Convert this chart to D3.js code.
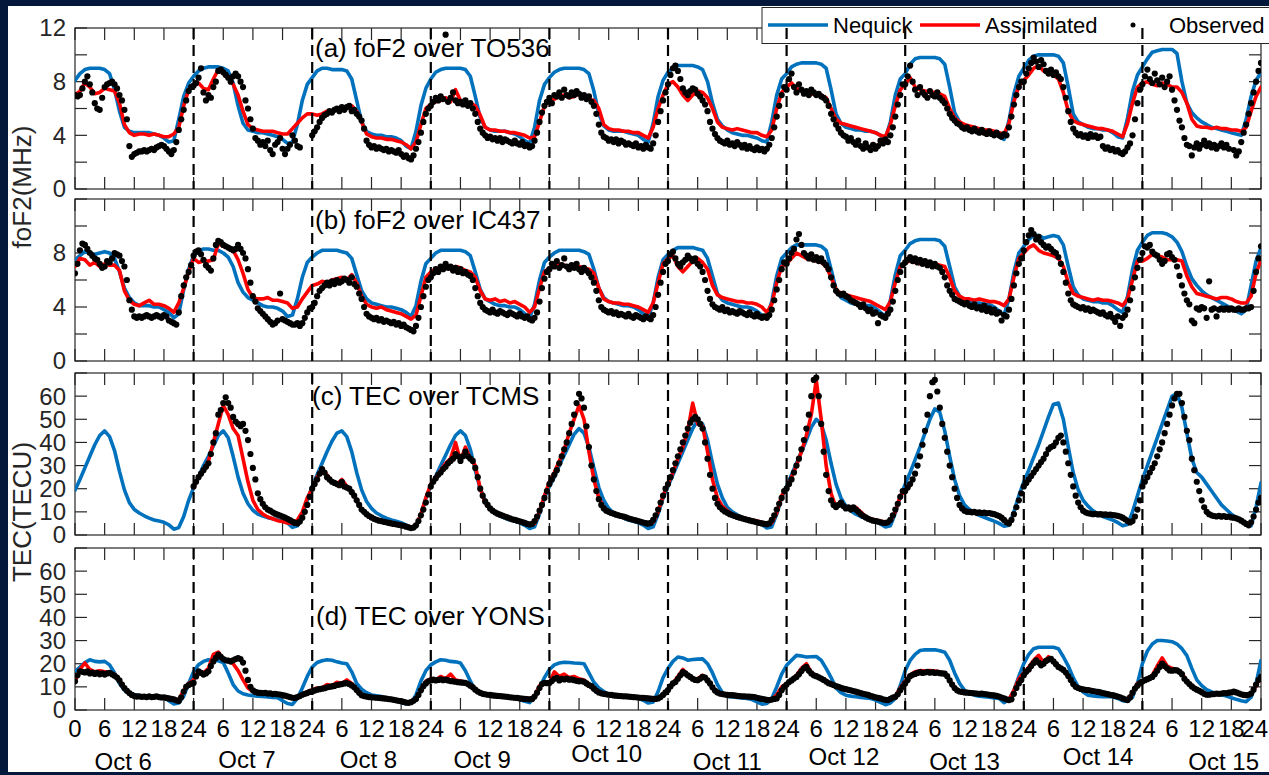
<!DOCTYPE html>
<html>
<head>
<meta charset="utf-8">
<script src="https://cdn.jsdelivr.net/npm/d3@7"></script>
<style>
  html, body { margin: 0; padding: 0; background: #03183a; }
  svg { display: block; }
  text { font-family: "Liberation Sans", Arial, Helvetica, sans-serif; }
</style>
</head>
<body>
<svg id="fig" width="1269" height="775"></svg>
<script>
// ---------------------------------------------------------------
// Hourly model values (hour 0 .. 240) and half-hourly observations
// ---------------------------------------------------------------
const dayLabels = ["Oct 6", "Oct 7", "Oct 8", "Oct 9", "Oct 10", "Oct 11", "Oct 12", "Oct 13", "Oct 14", "Oct 15"];
const hourTicks = [0, 6, 12, 18, 24, 30, 36, 42, 48, 54, 60, 66, 72, 78, 84, 90, 96, 102, 108, 114, 120, 126, 132, 138, 144, 150, 156, 162, 168, 174, 180, 186, 192, 198, 204, 210, 216, 222, 228, 234, 240];
const dayBoundaries = [24, 48, 72, 96, 120, 144, 168, 192, 216];
const seriesNames = ["Nequick", "Assimilated", "Observed"];
const panelTitles = ["(a) foF2 over TO536", "(b) foF2 over IC437", "(c) TEC over TCMS", "(d) TEC over YONS"];

// (a) foF2 over TO536, MHz
const nequickA = [
  8.1,8.6,8.9,9.0,9.0,9.0,8.9,8.6,7.4,5.8,4.6,4.3,4.2,4.2,4.2,4.2,4.1,4.0,3.8,3.5,3.6,5.2,6.9,7.9,
  8.4,8.8,9.0,9.1,9.1,9.1,9.0,8.8,7.9,6.2,4.9,4.4,4.3,4.2,4.2,4.1,4.0,3.9,3.7,3.4,3.5,4.8,6.6,7.8,
  8.3,8.8,9.0,9.0,8.9,8.9,8.9,8.8,8.2,6.6,5.0,4.3,4.1,4.0,4.0,3.9,3.9,3.8,3.6,3.2,3.0,4.3,6.2,7.5,
  8.2,8.7,8.9,9.0,9.0,9.0,9.0,8.9,8.4,6.9,5.3,4.6,4.4,4.3,4.3,4.3,4.2,4.1,3.9,3.6,3.4,4.6,6.6,7.8,
  8.3,8.7,8.9,9.0,9.0,9.0,9.0,8.9,8.6,7.3,5.6,4.7,4.4,4.3,4.3,4.3,4.2,4.1,4.0,3.7,3.5,4.9,6.9,8.1,
  8.7,9.0,9.2,9.2,9.2,9.2,9.1,8.9,8.0,6.4,5.2,4.7,4.4,4.2,4.1,4.0,4.0,3.9,3.8,3.6,3.5,5.0,7.0,8.2,
  8.6,9.1,9.3,9.4,9.4,9.4,9.4,9.3,9.0,7.4,5.6,4.9,4.6,4.5,4.4,4.4,4.3,4.3,4.2,4.0,3.8,5.0,7.0,8.2,
  8.6,9.3,9.7,9.8,9.8,9.8,9.8,9.7,9.3,7.6,5.7,5.0,4.7,4.5,4.4,4.4,4.3,4.3,4.2,3.9,3.7,5.1,7.1,8.4,
  9.0,9.6,9.9,10.0,10.0,10.0,10.0,9.9,9.4,7.6,5.6,5.0,4.8,4.6,4.5,4.5,4.4,4.4,4.2,3.9,3.8,5.3,7.3,8.5,
  9.1,9.7,10.2,10.3,10.4,10.4,10.4,10.1,8.0,6.4,5.7,5.3,5.0,4.8,4.6,4.5,4.4,4.3,4.2,4.1,4.0,5.2,6.9,8.1,
  8.7
];
const assimA = [
  7.0,7.3,7.9,7.6,7.1,7.2,7.5,7.4,7.3,6.4,4.8,4.2,4.0,4.1,4.1,4.0,4.1,4.0,3.9,3.9,4.1,4.6,6.2,7.4,
  7.7,7.9,7.5,7.4,8.2,8.9,8.7,8.4,7.8,7.0,5.8,4.8,4.5,4.4,4.3,4.3,4.3,4.2,4.1,4.1,4.5,4.9,5.3,5.6,
  5.6,5.5,5.6,5.8,5.8,6.0,6.1,6.0,6.2,5.8,5.0,4.1,3.9,3.8,3.8,3.7,3.7,3.6,3.5,3.3,3.0,3.5,4.8,6.0,
  6.3,6.5,6.6,6.8,6.5,7.4,6.6,6.5,6.4,6.2,5.5,4.6,4.4,4.4,4.3,4.3,4.2,4.2,4.1,4.0,3.8,3.9,5.0,6.2,
  6.6,6.7,6.9,7.0,6.8,6.9,7.1,6.8,6.7,6.6,6.0,4.8,4.5,4.4,4.4,4.3,4.3,4.2,4.2,4.0,3.8,4.6,6.0,7.0,
  7.8,8.0,7.6,7.0,6.6,7.0,7.3,7.2,6.8,6.0,5.0,4.6,4.5,4.4,4.5,4.4,4.3,4.2,4.2,4.0,3.9,4.4,6.0,7.2,
  7.6,7.9,7.5,7.3,7.2,7.1,7.0,7.0,6.8,6.0,5.2,4.9,4.8,4.7,4.6,4.5,4.4,4.3,4.2,4.0,3.9,4.8,6.2,7.4,
  7.8,8.3,7.6,7.4,7.3,7.2,7.2,7.1,6.9,6.0,5.3,5.0,4.8,4.7,4.6,4.5,4.4,4.4,4.3,4.2,4.1,4.9,6.5,7.7,
  8.1,8.5,9.0,9.2,8.8,8.6,8.5,8.2,7.2,5.8,5.1,4.9,4.8,4.7,4.6,4.5,4.5,4.4,4.3,4.1,3.9,4.9,6.4,7.6,
  7.9,8.0,7.8,7.7,7.9,7.8,7.6,7.6,7.2,6.4,5.2,4.7,4.6,4.6,4.5,4.6,4.5,4.5,4.4,4.4,4.3,4.6,5.8,6.9,
  7.6
];
const observedA = [
  7.0,6.9,7.0,7.5,8.0,8.4, 7.8,7.2,6.4,6.0,5.9,6.8, 7.6,7.8,7.9,8.0,7.8,7.5, 7.0,6.6,5.9,5.2,3.2,2.4,
  2.6,2.7,2.8,2.8,2.9,2.8, 2.9,3.0,2.9,3.1,3.2,3.3, 3.2,3.0,2.8,2.6,2.9,3.5, 4.4,5.2,5.9,6.6,7.3,7.6,
  7.7,7.9,8.3,9.0,7.2,6.6, 7.0,6.8,7.6,8.0,8.8,8.9, 8.7,8.5,8.3,8.0,8.4,8.6, 8.4,8.0,7.6,6.6,6.0,5.2,
  4.5,3.8,3.6,3.3,3.5,3.2, 3.6,2.9,2.6,3.3,3.5,3.8, 3.0,2.6,3.0,3.3,4.0,3.6, 3.2,3.1,null,null,null,null,
  4.0,4.3,4.6,5.0,5.3,5.5, 5.6,5.8,5.7,5.9,6.0,5.8, 6.1,5.9,6.1,6.2,5.8,5.9, 5.6,5.4,5.1,4.5,3.6,3.3,
  3.1,3.2,3.0,3.1,3.0,2.9, 3.0,2.8,2.9,2.8,2.7,2.9, 2.6,2.4,2.5,2.3,2.2,2.5, 3.0,3.5,4.2,5.0,5.6,6.0,
  6.2,6.5,6.8,6.6,6.9,6.7, 11.5,6.5,6.8,7.2,6.6,6.4, 6.5,6.3,6.6,6.2,6.4,6.0, 5.6,5.0,4.5,4.2,4.0,3.8,
  3.9,3.7,3.8,3.6,3.8,3.5, 3.7,3.6,3.5,3.4,3.6,3.4, 3.3,3.5,3.2,3.3,3.1,3.2, 3.6,4.2,5.0,5.7,6.2,6.5,
  6.8,6.4,7.0,6.9,7.2,6.8, 7.4,7.0,6.9,7.2,7.0,7.3, 7.1,6.8,7.0,6.7,6.9,6.5, 6.2,5.6,4.8,4.2,3.9,3.8,
  3.6,3.7,3.5,3.7,3.4,3.6, 3.5,3.3,3.4,3.3,3.2,3.4, 3.1,3.2,3.0,3.3,3.1,3.0, 3.4,4.0,5.0,5.8,6.6,7.2,
  7.8,8.5,9.0,9.2,8.8,8.2, 7.5,7.2,7.0,7.3,7.5,7.4, 7.1,6.9,6.6,6.3,5.8,5.0, 4.5,4.1,3.8,3.6,3.5,3.4,
  3.6,3.3,3.4,3.2,3.5,3.3, 3.1,3.3,3.0,3.2,3.0,2.9, 3.1,2.9,3.0,2.8,3.0,3.3, 3.8,4.6,5.4,6.2,7.0,7.6,
  7.4,8.2,8.6,7.6,7.2,7.8, 7.4,7.1,7.3,7.0,7.4,7.2, 7.0,7.1,6.9,6.8,6.6,6.2, 5.6,5.2,4.8,4.5,4.2,4.0,
  3.9,3.6,3.8,3.5,3.3,3.6, 3.2,3.0,3.4,3.1,2.9,3.3, 3.0,3.2,3.6,3.4,3.7,3.5, 4.0,4.6,5.4,6.3,7.0,7.8,
  7.8,8.4,9.2,8.0,7.4,7.0, 7.6,7.2,7.0,6.8,7.3,7.0, 6.9,7.2,6.8,6.6,6.4,6.0, 5.6,5.3,5.1,4.9,4.8,4.6,
  4.5,4.6,4.4,4.3,4.5,4.3, 4.2,4.4,4.2,4.1,4.3,4.1, 4.0,4.2,4.0,3.9,4.1,4.0, 4.6,5.4,6.3,7.0,7.6,8.0,
  8.0,8.6,9.0,9.4,9.8,9.5, 9.1,9.6,9.3,8.8,8.6,8.9, 8.5,8.7,8.4,8.2,7.6,6.8, 5.8,5.0,4.5,4.2,4.0,4.1,
  3.9,4.0,3.8,4.1,3.9,4.0, 3.8,3.9,3.2,3.0,3.1,2.9, 3.0,2.8,2.9,2.7,2.6,2.8, 3.1,3.4,4.0,5.2,6.4,7.4,
  7.8,8.4,8.9,8.2,7.9,8.6, 8.1,7.8,8.3,7.6,8.0,8.4, 7.4,6.6,5.9,5.1,4.6,3.8, 3.3,3.2,2.5,3.1,3.4,3.0,
  3.3,3.6,3.2,3.4,3.1,3.3, 3.0,3.2,3.4,3.1,3.3,3.0, null,2.9,2.5,2.8,3.5,4.2, 4.8,5.6,6.4,7.2,8.0,8.8,
  9.4
];

// (b) foF2 over IC437, MHz
const nequickB = [
  7.5,7.8,8.1,8.0,7.9,8.0,8.1,8.0,7.6,6.6,5.4,4.7,4.3,4.1,4.1,4.1,4.0,4.0,3.8,3.6,3.2,3.5,5.3,6.8,
  7.8,8.1,8.3,8.3,8.2,8.2,8.0,7.7,7.0,5.8,5.1,4.7,4.5,4.3,4.1,4.0,4.0,3.9,3.7,3.3,3.4,4.6,6.2,7.3,
  7.7,8.0,8.2,8.2,8.2,8.2,8.1,8.0,7.6,6.4,5.2,4.6,4.3,4.2,4.1,4.0,4.0,3.9,3.8,3.6,3.3,4.1,5.9,7.2,
  7.6,8.0,8.2,8.2,8.2,8.2,8.2,8.1,7.8,6.6,5.3,4.6,4.4,4.2,4.1,4.1,4.0,4.0,3.8,3.5,3.2,4.2,6.0,7.3,
  7.7,8.0,8.2,8.2,8.2,8.2,8.2,8.1,7.9,6.8,5.4,4.7,4.4,4.3,4.2,4.1,4.1,4.0,3.8,3.5,3.2,4.3,6.2,7.5,
  7.9,8.2,8.4,8.4,8.4,8.4,8.3,8.2,7.6,6.3,5.0,4.5,4.3,4.2,4.1,4.0,4.0,3.9,3.7,3.4,3.2,4.4,6.3,7.6,
  8.0,8.4,8.6,8.6,8.6,8.6,8.6,8.5,8.2,6.8,5.3,4.7,4.5,4.3,4.2,4.2,4.1,4.1,3.9,3.6,3.3,4.5,6.4,7.8,
  8.2,8.7,8.9,9.0,9.0,9.0,9.0,8.9,8.5,7.0,5.5,4.8,4.5,4.4,4.3,4.3,4.2,4.2,4.0,3.7,3.4,4.6,6.6,8.0,
  8.5,9.0,9.3,9.3,9.1,9.2,9.3,9.2,8.6,7.0,5.5,4.9,4.6,4.5,4.4,4.4,4.3,4.3,4.1,3.8,3.6,4.8,6.8,8.2,
  8.8,9.3,9.5,9.5,9.5,9.4,9.2,8.8,8.1,7.0,6.1,5.6,5.2,4.9,4.7,4.5,4.3,4.1,3.9,3.7,3.5,3.8,5.6,7.4,
  8.4
];
const assimB = [
  7.0,7.6,7.5,7.1,7.3,7.0,7.2,7.1,7.1,6.7,5.2,4.5,4.2,4.1,4.3,4.5,4.2,4.2,4.1,3.9,3.6,4.3,5.4,6.6,
  7.6,7.3,7.4,7.4,7.5,8.7,8.5,8.4,8.2,7.5,6.5,5.3,4.7,4.6,4.6,4.7,4.5,4.5,4.4,4.3,3.9,4.0,4.6,5.1,
  5.6,5.7,5.9,5.8,6.0,6.1,6.2,6.0,6.4,5.8,4.8,4.2,4.0,3.9,4.0,3.8,3.7,3.6,3.5,3.3,3.1,3.4,4.8,6.2,
  6.6,6.8,6.9,7.0,6.8,7.0,6.9,6.7,6.6,6.2,5.2,4.6,4.5,4.6,4.4,4.5,4.3,4.4,4.2,4.0,3.6,4.0,5.4,6.6,
  6.9,7.0,7.2,7.1,7.0,7.1,7.0,6.9,6.8,6.5,5.4,4.6,4.4,4.3,4.3,4.2,4.2,4.1,4.0,3.8,3.6,4.3,5.8,7.2,
  7.6,7.8,7.0,6.6,7.0,7.4,7.6,7.3,6.8,5.6,4.9,4.7,4.6,4.5,4.4,4.4,4.3,4.3,4.2,4.0,3.6,4.2,5.8,7.0,
  7.2,7.6,8.0,7.8,7.6,7.5,7.4,7.3,7.0,6.2,5.3,5.0,4.9,4.8,4.7,4.6,4.5,4.4,4.2,4.0,3.8,4.4,5.8,7.0,
  7.3,7.4,7.3,7.2,7.3,7.2,7.2,7.1,7.0,6.2,5.2,4.8,4.6,4.6,4.5,4.6,4.5,4.4,4.4,4.3,4.1,4.6,6.2,7.6,
  8.0,8.4,8.6,8.2,8.0,7.9,7.8,7.6,7.0,5.8,5.0,4.8,4.7,4.6,4.5,4.6,4.5,4.5,4.4,4.3,4.1,4.6,6.0,7.4,
  7.4,7.6,7.9,7.8,7.7,7.5,7.5,7.5,7.4,6.3,5.5,5.0,4.9,4.8,4.7,4.6,4.7,4.7,4.6,4.4,4.3,4.3,4.8,6.5,
  7.5
];
const observedB = [
  6.5,7.2,8.2,8.7,8.6,8.3, 8.0,7.8,7.6,7.5,7.2,6.9, 7.0,7.4,7.3,7.6,8.0,7.9, 7.8,7.4,7.0,6.0,4.5,3.8,
  3.3,3.2,3.3,3.2,3.3,3.4, 3.3,3.2,3.3,3.4,3.3,3.2, 3.4,3.3,3.0,2.9,2.8,2.7, 3.6,4.8,5.6,6.2,6.6,7.1,
  7.8,8.1,8.2,7.9,7.5,7.1, 6.9,6.7,7.6,8.6,8.9,8.8, 8.6,8.5,8.4,8.3,8.2,8.3, 8.6,8.3,8.0,7.6,6.8,5.8,
  4.8,4.4,3.9,3.7,3.5,3.3, 3.1,2.9,2.7,2.8,3.0,5.0, 3.1,3.0,2.9,2.8,2.7,2.7, 2.8,2.6,2.8,3.2,3.6,3.9,
  4.0,4.3,4.8,5.2,5.4,5.6, 5.8,5.6,5.9,5.7,6.0,5.8, 5.9,6.1,6.0,5.8,6.2,5.7, 5.5,5.0,4.6,4.0,3.5,3.3,
  3.2,3.1,3.2,3.0,3.1,2.9, 3.0,2.9,2.8,2.9,2.7,2.8, 2.6,2.7,2.5,2.4,2.3,2.2, 2.6,3.2,4.0,4.8,5.5,6.0,
  6.2,6.5,6.8,6.6,7.0,6.8, 7.2,6.9,7.0,6.7,6.9,6.6, 6.8,6.5,6.6,6.4,6.3,6.0, 5.4,4.8,4.3,4.0,3.8,3.7,
  3.6,3.8,3.6,3.5,3.7,3.6, 3.5,3.4,3.6,3.5,3.4,3.3, 3.5,3.3,3.2,3.3,3.1,3.0, 3.2,3.6,4.4,5.4,6.1,6.6,
  6.8,7.2,7.0,7.4,6.9,7.1, 7.6,7.0,6.8,7.1,6.9,7.2, 6.8,6.6,6.9,6.7,6.5,6.2, 5.8,5.2,4.5,4.0,3.8,3.7,
  3.6,3.7,3.5,3.6,3.4,3.5, 3.4,3.3,3.5,3.3,3.2,3.4, 3.3,3.2,3.1,3.3,3.2,3.1, 3.4,4.0,4.9,5.8,6.6,7.2,
  7.4,7.9,8.1,7.6,7.2,7.0, 7.3,7.5,7.8,7.6,7.4,7.6, 7.2,7.0,6.6,6.0,5.2,4.6, 4.2,4.0,3.9,3.8,4.0,3.7,
  3.8,3.6,3.7,3.6,3.5,3.7, 3.6,3.5,3.4,3.6,3.4,3.3, 3.5,3.3,3.2,3.3,3.2,3.4, 3.8,4.5,5.3,6.0,6.8,7.3,
  7.2,7.6,8.0,8.3,9.0,9.4, 8.6,8.0,7.8,7.6,7.9,7.5, 7.7,7.4,7.6,7.3,7.1,6.8, 6.2,5.6,5.2,5.0,4.9,5.0,
  4.8,4.7,4.5,4.4,4.3,4.2, 4.0,4.2,3.9,3.7,3.8,3.5, 3.6,2.8,3.4,3.3,3.2,3.5, 3.8,4.4,5.2,6.0,6.6,7.1,
  7.3,7.5,7.7,7.4,7.6,7.3, 7.5,7.2,7.4,7.1,7.3,7.0, 7.2,7.0,6.9,6.6,6.2,5.6, 5.2,4.9,4.6,4.5,4.4,4.3,
  4.2,4.3,4.1,4.0,4.2,3.9, 4.0,3.8,4.1,3.7,3.9,3.6, 3.8,3.5,3.6,3.0,3.4,3.3, 3.8,4.6,5.6,6.5,7.2,7.6,
  8.2,8.8,9.3,9.7,9.4,9.0, 9.2,8.8,8.6,8.4,8.5,8.3, 8.1,8.0,7.7,7.2,6.6,5.8, 5.0,4.5,4.2,4.1,4.0,3.9,
  4.0,3.8,3.9,3.7,3.8,3.7, 3.6,3.5,3.6,3.4,3.3,3.5, 3.2,2.9,3.3,2.6,3.2,3.4, 3.8,4.5,5.4,6.2,6.9,7.5,
  8.0,8.5,8.4,8.6,8.1,7.9, 7.8,7.5,7.2,7.4,7.9,8.0, 7.7,7.5,7.0,6.3,5.6,5.0, 4.5,4.2,3.0,2.8,3.9,3.8,
  4.0,3.9,3.2,5.9,3.8,3.9, 3.3,3.8,3.9,3.8,3.9,3.8, 3.9,3.8,3.8,3.9,3.8,3.8, 3.9,3.9,4.0,5.2,6.6,7.6,
  8.5
];

// (c) TEC over TCMS, TECU
const nequickC = [
  19.3,24,29,34,39,43,45,42.5,36.5,27.5,19.5,14,11,9.5,8.3,7.3,6.5,6.0,5.5,4.4,2.5,3.2,8.0,15.0,
  20.5,25,30,34,38.5,43,45,42,34,25,18,13.5,10.7,9,8.2,7.5,7,6.5,6,5.2,3.3,4.0,9,15,
  21,26,31,36,40.5,44,45,42.5,36,27,19.5,14.5,11.5,9.5,8.3,7.3,6.5,5.9,5.3,4.3,2.8,3.5,9,16,
  21,25.5,30,34.5,39,43,45,43,37,28,20,15,11.5,9.5,8.2,7.3,6.5,5.9,5.3,4.2,2.8,3.5,9,16,
  21,25,30,34.5,39,43.5,46,44,38,29,20.5,15,11.5,9.5,8.3,7.3,6.5,5.9,5.3,4.3,2.8,3.5,9,16,
  21,26,31,36,41,46,49.5,48,41,31,22,16,12,10,8.7,7.6,6.8,6.1,5.5,4.5,3.0,3.5,9,16,
  21,26,31,36,41,46.5,50,48,41,31,22,16,12.5,10.5,9,8,7.2,6.5,5.8,4.8,3.5,4.0,9.5,16.5,
  22,27,32.5,38,44,50,54.5,53,45,34,24,17,13,11,9.5,8.5,7.6,6.8,6.0,5.0,3.8,4.2,10,17,
  23,28,33.5,39,45,51,56.5,57,50,38,27,19.5,15,12.5,10.5,9,8,7.2,6.4,5.4,4.0,4.5,10,17,
  24,30,36,42,48,54,60,61,55,44,33,27,25,22,19,16,13,11,9,7.5,6,4.5,4.0,12,
  22.5
];
// assimilation run covers hours 24 .. 168
const assimCStart = 24;
const assimC = [
  20.5,25,28,32,40,48,56,52,46,43,33,23,15,11,9,7.8,7,6.2,5.8,5.2,5.0,6.5,10,16,
  20,25,28,26,23,22,24,21,19,15,11,9,7.5,6.5,6,5.5,5.2,4.8,4.5,4.0,3.5,4.0,9,16,
  22,25,28,31,33,40,32,38,33,30,20,14,11,9.5,8.5,7.8,7.2,6.5,6.0,5.5,4.5,5.0,10,17,
  23,27,32,37,44,50,56,50,36,24,16,12,10,9,8.2,7.5,7,6.5,6,5.5,5.0,5.5,10,17,
  22,27,33,38,45,57,48,47,36,24,16,12.5,10.5,9,8,7.5,7,6.5,6,5.5,5.0,5.2,9.5,17,
  20,25,30,36,43,52,67,50,30,18,12,14,12,11,12,10,8,7,6.5,6,5.5,6,10,17,
  19
];
// receiver observations start at hour 24
const observedCStart = 24;
const observedC = [
  21,23,25,26.5,28,29.5, 31,35,40,44,52,54, 57,59.5,57,55,51,49, 48,47,48,45,41,35,
  29,24,18,15.5,13.5,12, 11,10.5,9.8,9.2,8.8,8.4, 8,7.5,7,6.4,5.8,5.2, 5,5.8,7.5,10,13,16.5,
  20,22,24,26.5,28.5,27, 25,24,23,22.5,22,21.5, 23,21,20.5,20,18.5,17, 15,13,11,10,9,8.2,
  7.6,7,6.6,6.2,6,5.7, 5.5,5.2,5.0,4.8,4.6,4.4, 4.2,4.0,3.6,3.3,3.0,3.2, 4.2,6,8.5,11,14,17.5,
  21,23,24.5,26,27,28.5, 29.5,31,32,33,35,34, 32,34,36,34,33,32, 29,25,20,17,14.5,13,
  11.5,10.5,9.8,9.2,8.8,8.4, 8,7.6,7.2,6.8,6.5,6.2, 5.9,5.6,5.2,4.8,4.5,4.8, 6,8,10.5,13,16,19,
  22,24,26,28,31,34, 37,40,44,48,52,57, 61,59,55,47,38,30, 24,19,15.5,13,11.5,10.5,
  10,9.5,9.2,8.8,8.5,8.2, 8,7.6,7.2,6.9,6.6,6.3, 6,5.7,5.4,5.1,4.9,5.2, 6.5,8.5,11,14,17,20,
  22,25,28,31,34,37, 40,43,46,48.5,50,51, 50,48,46,40,33,26, 20,16,13.5,12,11,10.2,
  9.6,9,8.6,8.2,7.8,7.5, 7.2,6.9,6.6,6.3,6,5.8, 5.5,5.2,5,4.8,4.6,5, 6.5,8.5,11,13.5,16,19,
  20,22,24,27,30,33, 37,41,46,52,60,67, 68,60,48,36,26,19, 15,13,12,13,14,12.5,
  11.5,12,11,12,11,10, 9,8.2,7.6,7,6.6,6.2, 6,5.8,5.5,5.3,5.2,5.5, 6.5,8.5,11,13.5,16.5,19,
  19,20.5,22,24,26.5,30, 34,39,45,52,60,66, 67,62,55,48,42,36, 30,25,20,16,13,11.5,
  10.5,10,10,9.8,10,9.6, 9.8,9.5,9.7,9.4,9.5,9.2, 9,8.6,8.2,7.5,6.5,5.5, 5,6.5,9,12,15,18,
  21,22.5,24,25.5,27,28.5, 30,31.5,33,35,37,38, 38.5,40,42,43,40,36, 31,26,21,17,14,12,
  10.5,9.8,9.4,9.2,9,9.1, 8.9,9,8.8,8.9,8.7,8.8, 8.6,8.5,8.3,8,7.5,6.8, 6,5.4,6,8,11,15,
  21,23,25,27,29,31, 34,37,40,44,48,52, 56,59,61,61,57,51, 45,41,33,28,23,19,
  15,12,10,9,8.5,8.2, 8,8.3,7.9,8.2,7.8,8, 7.6,7.5,7.2,6.8,6.2,5.5, 4.8,4.2,5.5,8,11,14,
  16
];

// (d) TEC over YONS, TECU
const nequickD = [
  16.7,18.5,20.5,21.7,21.0,20.8,21.0,19.5,16.0,11.5,8.6,7.3,6.7,6.3,6.0,5.8,5.6,5.4,5.2,4.0,2.6,3.0,6.0,11.5,
  16.5,19.6,21.0,21.7,21.5,21.3,20.5,16.0,11.0,8.2,7.0,6.5,6.2,6.0,5.8,5.6,5.4,5.3,4.0,2.8,2.4,5.0,9.5,14.5,
  18.5,20.5,21.3,21.7,21.5,20.8,20.3,20.0,16.5,11.5,9.0,7.5,6.5,6.1,5.8,5.2,4.5,3.9,3.2,2.6,3.0,6.5,12.5,17.0,
  19.5,20.8,21.7,21.5,21.0,20.8,20.3,17.0,12.5,8.5,7.2,6.6,6.2,6.0,5.8,5.6,5.3,5.0,4.5,3.8,3.2,5.5,9.5,14.0,
  17.5,19.5,20.3,20.6,20.5,20.3,20.2,20.0,16.0,12.0,9.5,8.0,6.8,6.3,6.0,5.8,5.6,5.4,5.0,4.2,3.0,3.5,8.0,14.0,
  18.0,21.0,22.9,22.5,21.5,21.8,22.0,22.1,20.0,16.0,11.0,7.5,6.0,5.6,5.4,5.2,5.0,4.5,3.5,2.5,2.8,5.0,10.0,15.5,
  19.3,21.5,23.6,23.3,22.9,23.0,23.1,21.5,18.0,14.0,9.5,7.5,6.4,6.0,5.7,5.4,5.2,5.0,4.3,3.3,2.3,3.0,5.0,10.5,
  17.0,21.4,24.0,25.7,26.0,26.0,26.0,25.6,25.0,21.5,16.0,11.5,8.5,7.2,6.4,6.0,5.7,5.5,5.2,5.0,3.2,4.5,8.5,14.5,
  20.0,24.0,26.5,27.1,27.1,27.1,27.1,26.5,23.0,19.0,14.0,10.0,7.8,6.4,6.1,5.9,5.8,5.7,5.7,5.0,4.0,3.8,5.5,11.5,
  20.0,25.5,28.5,30.0,30.0,29.8,29.5,28.5,26.5,23.5,18.0,13.0,10.5,8.8,7.8,7.2,6.6,6.0,5.3,4.6,4.0,3.6,5.5,11.4,
  21.4
];
const assimD = [
  12.4,17.5,20.3,17.5,16.5,17.0,16.5,16.0,15.5,13.0,9.5,7.5,6.2,6.0,5.8,5.7,5.6,5.5,5.3,5.0,4.6,4.5,8.5,11.5,
  13.0,17.0,16.0,18.0,24.0,25.0,22.0,21.0,20.0,17.0,13.0,9.5,8.0,7.5,7.2,7.0,6.8,6.6,6.2,5.8,5.3,5.8,6.8,7.8,
  8.8,9.5,9.5,11.0,10.5,12.0,11.5,13.0,11.5,9.0,6.5,5.8,5.5,5.3,5.1,4.9,4.6,4.2,3.8,3.2,3.6,4.8,9.0,12.5,
  13.5,13.0,14.5,13.5,15.5,13.0,12.5,12.0,10.5,8.5,7.3,6.8,6.5,6.3,6.1,5.9,5.7,5.5,5.2,4.9,4.6,6.0,10.5,12.0,
  11.8,16.5,14.5,15.5,14.0,14.5,13.5,13.0,11.0,9.5,7.8,7.0,6.5,6.3,6.1,6.0,5.9,5.7,5.5,5.3,5.0,4.8,5.0,6.5,
  8.6,11.5,14.5,17.5,15.0,13.5,13.5,15.0,13.0,9.5,7.5,6.8,6.5,6.3,6.1,5.9,5.8,5.6,5.2,4.8,4.4,4.7,6.5,10.0,
  11.5,13.0,15.0,18.0,20.0,16.0,15.0,14.0,12.5,11.5,10.5,9.5,9.0,8.3,7.8,7.3,6.6,6.0,5.5,5.0,4.4,5.0,6.0,9.5,
  12.5,15.0,16.5,17.0,16.8,17.0,16.8,16.5,15.7,13.0,9.0,8.0,7.6,7.4,7.2,7.0,6.8,6.6,6.2,5.5,4.8,4.5,8.5,13.5,
  16.0,18.5,21.5,23.6,20.5,23.0,21.0,19.0,17.0,14.5,11.0,9.5,9.0,8.6,8.2,7.8,7.2,6.8,6.4,5.9,5.2,4.5,7.5,11.5,
  12.5,13.5,15.0,19.0,22.5,19.0,18.0,17.5,16.0,12.5,10.0,8.6,7.5,6.6,6.8,7.0,7.2,7.5,7.8,7.6,7.0,6.5,6.8,10.5,
  14.5
];
const observedD = [
  12.4,15,16.7,16.5,16.2,16.7, 15.8,16.2,15.6,16.0,15.4,15.8, 15.3,15.8,16.0,15.4,14.8,14.0, 12.8,11.0,9.5,8.3,7.3,6.5,
  6.0,5.8,5.9,5.7,5.8,5.6, 5.9,5.6,5.7,5.9,5.6,5.4, 5.5,5.2,5.0,4.8,4.6,4.2, 3.9,5.5,8.0,10.0,10.8,11.3,
  11.7,14.5,16.7,16.0,15.3,15.8, 16.7,19.0,21.0,22.5,23.9,23.0, 22.0,21.5,21.3,21.0,21.5,22.0, 22.4,22.0,20.5,17.0,13.0,10.0,
  8.5,7.8,7.5,7.4,7.3,7.4, 7.1,7.2,6.9,7.0,6.8,6.7, 6.4,6.2,5.9,5.6,5.3,5.2, 5.6,6.0,6.6,7.0,7.3,7.8,
  8.0,8.4,8.8,9.0,9.2,9.4, 9.8,10.0,10.2,10.4,10.8,11.0, 11.2,11.5,11.6,11.2,10.6,9.8, 8.6,7.4,6.4,6.0,5.8,5.6,
  5.5,5.4,5.3,5.2,5.1,5.0, 4.9,4.7,4.6,4.4,4.2,4.0, 3.8,3.5,3.2,3.1,3.4,4.0, 4.8,6.5,8.5,10.3,11.5,12.4,
  12.8,13.1,12.8,13.0,13.2,12.9, 13.1,12.8,12.5,12.4,12.2,12.0, 11.9,11.8,11.7,11.2,10.5,9.8, 8.8,8.0,7.4,7.0,6.8,6.6,
  6.5,6.3,6.2,6.1,6.0,5.9, 5.8,5.7,5.5,5.4,5.3,5.2, 5.0,4.9,4.8,4.7,4.6,4.8, 5.8,7.5,9.5,11.2,11.7,11.6,
  11.7,12.5,13.5,13.9,12.8,13.5, 13.2,13.6,13.1,13.2,12.9,12.6, 12.4,12.5,12.2,11.5,10.8,10.3, 9.2,8.3,7.6,7.2,7.0,6.8,
  6.6,6.5,6.3,6.2,6.1,6.0, 5.9,5.9,5.8,5.7,5.6,5.5, 5.4,5.3,5.2,5.1,5.0,4.9, 4.8,4.8,5.0,5.6,6.5,7.6,
  8.6,10.2,11.5,12.1,13.5,15.0, 16.4,15.8,15.0,14.3,13.5,13.0, 12.9,13.5,14.3,14.0,12.8,11.5, 9.8,8.4,7.6,7.1,6.9,6.7,
  6.5,6.4,6.4,6.3,6.1,6.0, 5.9,5.9,5.8,5.8,5.7,5.6, 5.3,5.0,4.8,4.6,4.4,4.3, 4.5,4.8,5.0,6.5,8.5,10.0,
  11.0,12.1,12.8,13.6,14.3,15.5, 16.8,18.0,18.6,17.0,15.8,15.0, 14.6,14.1,13.6,13.0,12.3,11.6, 11.2,10.8,10.3,10.0,9.6,9.2,
  9.0,8.7,8.5,8.2,7.9,7.6, 7.3,7.0,6.8,6.5,6.1,5.8, 5.5,5.2,5.0,4.6,4.4,4.3, 4.8,5.4,5.7,6.8,8.5,10.0,
  11.5,13.0,14.6,15.2,15.6,16.0, 16.4,16.0,16.2,16.5,16.1,16.4, 16.0,16.2,15.9,15.8,15.7,14.6, 12.8,11.0,9.5,8.5,8.0,7.8,
  7.6,7.5,7.4,7.3,7.2,7.1, 7.0,7.1,6.9,6.8,6.6,6.4, 6.3,6.1,5.8,5.4,5.0,4.6, 4.3,4.6,7.0,9.5,11.5,13.0,
  15.0,16.5,17.5,19.0,20.3,21.4, 20.5,19.3,20.0,21.2,21.8,22.1, 21.0,19.8,18.6,18.0,17.3,16.2, 14.7,13.0,11.2,10.0,9.5,9.1,
  8.9,8.7,8.6,8.4,8.2,8.0, 7.8,7.6,7.3,7.1,6.9,6.6, 6.4,6.1,5.8,5.5,5.0,4.6, 4.3,5.5,7.5,9.3,10.5,11.6,
  12.3,12.9,13.3,13.8,14.3,15.5, 17.0,18.6,20.0,19.0,18.0,17.1, 17.0,17.2,17.1,16.5,15.5,13.5, 12.3,11.2,10.2,9.4,8.8,8.3,
  7.7,7.0,6.6,6.6,6.8,6.9, 7.1,7.0,7.1,7.3,7.2,7.5, 7.6,7.9,7.6,7.2,6.8,6.5, 6.4,6.6,7.1,8.8,11.0,13.0,
  14.3
];

// ---------------------------------------------------------------
// Figure layout
// ---------------------------------------------------------------
const W = 1269, H = 775;
const svg = d3.select("#fig");
const axisColor = "#262626";
const colors = { nequick: "#0072BD", assim: "#FF0000", obs: "#000000" };

svg.append("rect").attr("x", 8).attr("y", 6).attr("width", W - 8).attr("height", 766).attr("fill", "#ffffff");

const x = d3.scaleLinear().domain([0, 240]).range([75, 1261]);

const panels = [
  { title: panelTitles[0], titleX: 315, titleY: 57, top: 28, bottom: 189, max: 12, step: 2, labels: [0, 4, 8, 12],
    nequick: nequickA, assim: assimA, assimStart: 0, obs: observedA, obsStart: 0 },
  { title: panelTitles[1], titleX: 315, titleY: 229, top: 199, bottom: 361, max: 12, step: 2, labels: [0, 4, 8],
    nequick: nequickB, assim: assimB, assimStart: 0, obs: observedB, obsStart: 0 },
  { title: panelTitles[2], titleX: 312, titleY: 405, top: 373, bottom: 535, max: 70, step: 10, labels: [0, 10, 20, 30, 40, 50, 60],
    nequick: nequickC, assim: assimC, assimStart: assimCStart, obs: observedC, obsStart: observedCStart },
  { title: panelTitles[3], titleX: 316, titleY: 625, top: 548, bottom: 710, max: 70, step: 10, labels: [0, 10, 20, 30, 40, 50, 60],
    nequick: nequickD, assim: assimD, assimStart: 0, obs: observedD, obsStart: 0 }
];

const toHourly = (vals, start) => vals.map((v, i) => [start + i, v]);
const toHalfHourly = (vals, start) => vals.map((v, i) => [start + i * 0.5, v]);

const layerPanels = svg.append("g");
const layerOverlay = svg.append("g");

panels.forEach((p, pi) => {
  const y = d3.scaleLinear().domain([0, p.max]).range([p.bottom, p.top]);
  const g = layerPanels.append("g");
  const clipId = "clip" + pi;
  svg.append("clipPath").attr("id", clipId)
    .append("rect").attr("x", x(0)).attr("y", p.top - 2).attr("width", x(240) - x(0)).attr("height", p.bottom - p.top + 2);

  // box
  g.append("rect").attr("x", x(0)).attr("y", p.top).attr("width", x(240) - x(0)).attr("height", p.bottom - p.top)
    .attr("fill", "#fff").attr("stroke", axisColor).attr("stroke-width", 1.2);

  // inward ticks
  const tl = 12;
  hourTicks.forEach(h => {
    g.append("line").attr("x1", x(h)).attr("x2", x(h)).attr("y1", p.bottom).attr("y2", p.bottom - tl)
      .attr("stroke", axisColor).attr("stroke-width", 1.2);
    g.append("line").attr("x1", x(h)).attr("x2", x(h)).attr("y1", p.top).attr("y2", p.top + tl)
      .attr("stroke", axisColor).attr("stroke-width", 1.2);
  });
  d3.range(0, p.max + 0.001, p.step).forEach(v => {
    g.append("line").attr("x1", x(0)).attr("x2", x(0) + tl).attr("y1", y(v)).attr("y2", y(v))
      .attr("stroke", axisColor).attr("stroke-width", 1.2);
    g.append("line").attr("x1", x(240)).attr("x2", x(240) - tl).attr("y1", y(v)).attr("y2", y(v))
      .attr("stroke", axisColor).attr("stroke-width", 1.2);
  });

  // y tick labels
  p.labels.forEach(v => {
    g.append("text").attr("x", 66).attr("y", y(v)).attr("dy", "0.35em")
      .attr("text-anchor", "end").attr("font-size", 24).attr("fill", axisColor).text(v);
  });

  const plot = g.append("g").attr("clip-path", `url(#${clipId})`);
  const line = d3.line().defined(d => d[1] != null)
    .x(d => x(d[0])).y(d => y(d[1]));

  plot.append("path").datum(toHourly(p.nequick, 0)).attr("d", line)
    .attr("fill", "none").attr("stroke", colors.nequick).attr("stroke-width", 3.6)
    .attr("stroke-linejoin", "round").attr("stroke-linecap", "round");
  plot.append("path").datum(toHourly(p.assim, p.assimStart)).attr("d", line)
    .attr("fill", "none").attr("stroke", colors.assim).attr("stroke-width", 3.6)
    .attr("stroke-linejoin", "round").attr("stroke-linecap", "round");
  plot.selectAll("circle.obs").data(toHalfHourly(p.obs, p.obsStart).filter(d => d[1] != null))
    .enter().append("circle").attr("class", "obs")
    .attr("cx", d => x(d[0])).attr("cy", d => y(d[1])).attr("r", 3.1).attr("fill", colors.obs);

  // panel title
  layerOverlay.append("text").attr("x", p.titleX).attr("y", p.titleY)
    .attr("font-size", 26).attr("fill", "#000").text(p.title);
});

// legend
const lg = layerOverlay.append("g");
lg.append("rect").attr("x", 762).attr("y", 7.5).attr("width", 540).attr("height", 36)
  .attr("fill", "#fff").attr("stroke", axisColor).attr("stroke-width", 1);
lg.append("line").attr("x1", 768).attr("x2", 828).attr("y1", 25).attr("y2", 25)
  .attr("stroke", colors.nequick).attr("stroke-width", 3.6);
lg.append("text").attr("x", 833).attr("y", 33).attr("font-size", 22).text(seriesNames[0]);
lg.append("line").attr("x1", 920).attr("x2", 980).attr("y1", 25).attr("y2", 25)
  .attr("stroke", colors.assim).attr("stroke-width", 3.6);
lg.append("text").attr("x", 985).attr("y", 33).attr("font-size", 22).text(seriesNames[1]);
lg.append("circle").attr("cx", 1133).attr("cy", 25).attr("r", 2.5).attr("fill", colors.obs);
lg.append("text").attr("x", 1169).attr("y", 33).attr("font-size", 22).text(seriesNames[2]);

// day separators
panels.forEach(p => {
  dayBoundaries.forEach(h => {
    layerOverlay.append("line").attr("x1", x(h)).attr("x2", x(h)).attr("y1", p.top).attr("y2", p.bottom)
      .attr("stroke", "#000").attr("stroke-width", 2.2).attr("stroke-dasharray", "11,6");
  });
});

// hour labels under the bottom panel (the last one is kept inside the frame)
hourTicks.forEach((h, i) => {
  const lab = h === 0 ? "0" : (h % 24 === 0 ? "24" : String(h % 24));
  const last = i === hourTicks.length - 1;
  layerOverlay.append("text").attr("x", last ? 1268 : x(h)).attr("y", 737)
    .attr("text-anchor", last ? "end" : "middle")
    .attr("font-size", 24).attr("fill", "#000").text(lab);
});

// day labels (slight hand-placed offsets)
const dayNudge = [[-11, 770], [-6, 768], [-3, 768], [-8, 768], [-2, 762], [0, 770], [-2, 765], [0, 770], [15, 765], [22, 770]];
dayLabels.forEach((d, i) => {
  layerOverlay.append("text").attr("x", x(12 + 24 * i) + dayNudge[i][0]).attr("y", dayNudge[i][1])
    .attr("text-anchor", "middle").attr("font-size", 24).attr("fill", "#000").text(d);
});

// y axis titles
layerOverlay.append("text").attr("transform", "translate(31,187) rotate(-90)")
  .attr("text-anchor", "middle").attr("font-size", 26).attr("fill", axisColor).text("foF2(MHz)");
layerOverlay.append("text").attr("transform", "translate(31,512) rotate(-90)")
  .attr("text-anchor", "middle").attr("font-size", 26).attr("fill", axisColor).text("TEC(TECU)");
</script>
</body>
</html>
